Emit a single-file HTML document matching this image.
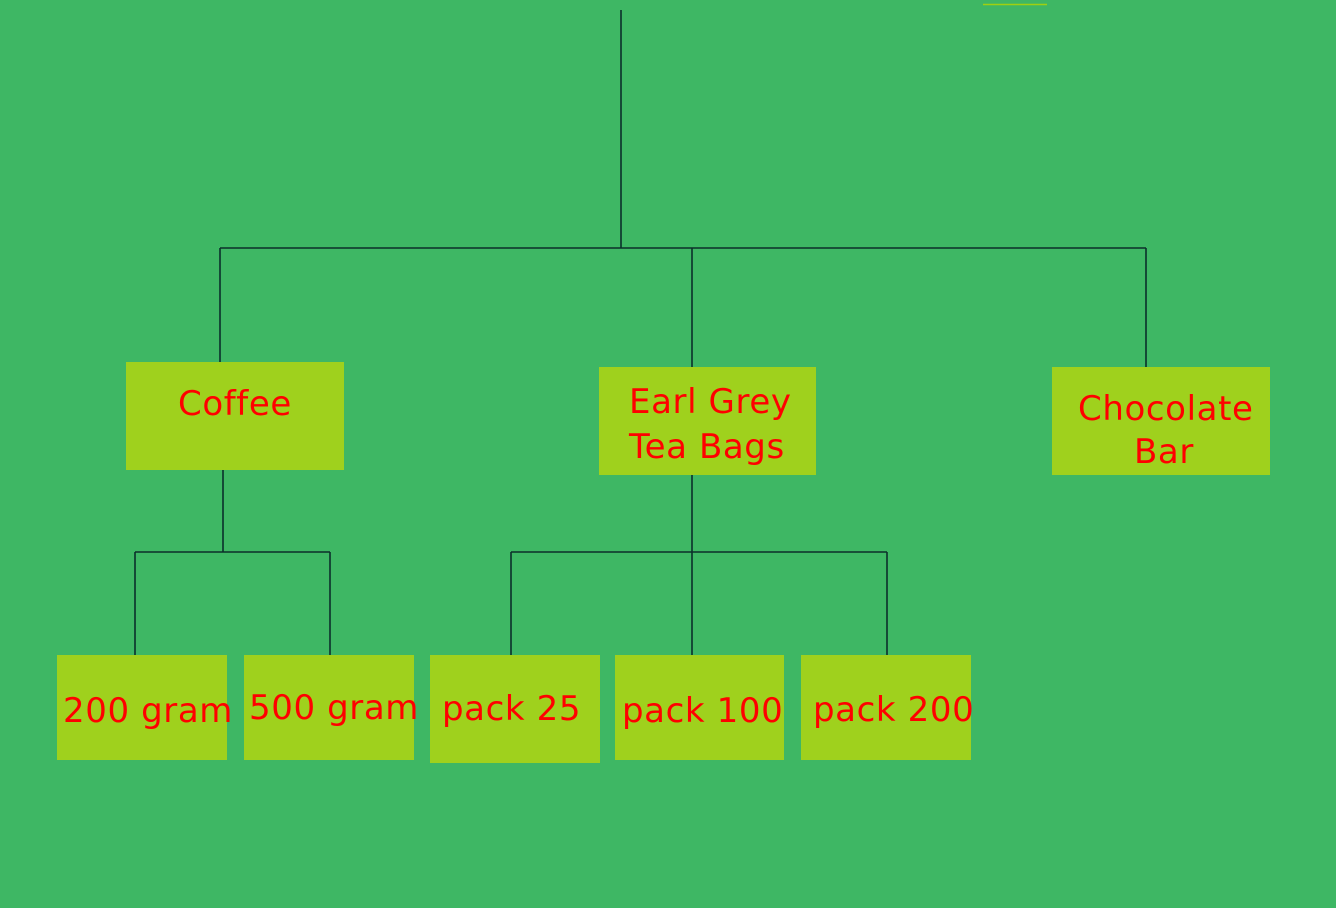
<!DOCTYPE html>
<html><head><meta charset="utf-8"><style>
html,body{margin:0;padding:0;background:#3eb764;}
svg{display:block;}
text{font-family:"DejaVu Sans","Liberation Sans",sans-serif;font-size:34px;fill:#ff0000;letter-spacing:0.6px;}
</style></head><body>
<svg width="1336" height="908" viewBox="0 0 1336 908" xmlns="http://www.w3.org/2000/svg">
<rect width="1336" height="908" fill="#3eb764"/>
<line x1="983" y1="4.5" x2="1047" y2="4.5" stroke="#a0d010" stroke-width="1.5"/>
<g stroke="#0b2f2a" stroke-width="1.6" fill="none">
<line x1="621" y1="10" x2="621" y2="248"/>
<line x1="220" y1="248" x2="1146" y2="248"/>
<line x1="220" y1="248" x2="220" y2="362"/>
<line x1="692" y1="248" x2="692" y2="367"/>
<line x1="1146" y1="248" x2="1146" y2="367"/>
<line x1="223" y1="470" x2="223" y2="552"/>
<line x1="135" y1="552" x2="330" y2="552"/>
<line x1="135" y1="552" x2="135" y2="655"/>
<line x1="330" y1="552" x2="330" y2="655"/>
<line x1="692" y1="475" x2="692" y2="655"/>
<line x1="511" y1="552" x2="887" y2="552"/>
<line x1="511" y1="552" x2="511" y2="655"/>
<line x1="887" y1="552" x2="887" y2="655"/>
</g>
<g fill="#9fd11d">
<rect x="126" y="362" width="218" height="108"/>
<rect x="599" y="367" width="217" height="108"/>
<rect x="1052" y="367" width="218" height="108"/>
<rect x="57" y="655" width="170" height="105"/>
<rect x="244" y="655" width="170" height="105"/>
<rect x="430" y="655" width="170" height="108"/>
<rect x="615" y="655" width="169" height="105"/>
<rect x="801" y="655" width="170" height="105"/>
</g>
<text x="178" y="415">Coffee</text>
<text x="629" y="413">Earl Grey</text>
<text x="629" y="458">Tea Bags</text>
<text x="1078" y="420">Chocolate</text>
<text x="1134" y="463">Bar</text>
<text x="63" y="722">200 gram</text>
<text x="249" y="719">500 gram</text>
<text x="442" y="720">pack 25</text>
<text x="622" y="722">pack 100</text>
<text x="813" y="721">pack 200</text>
</svg>
</body></html>
